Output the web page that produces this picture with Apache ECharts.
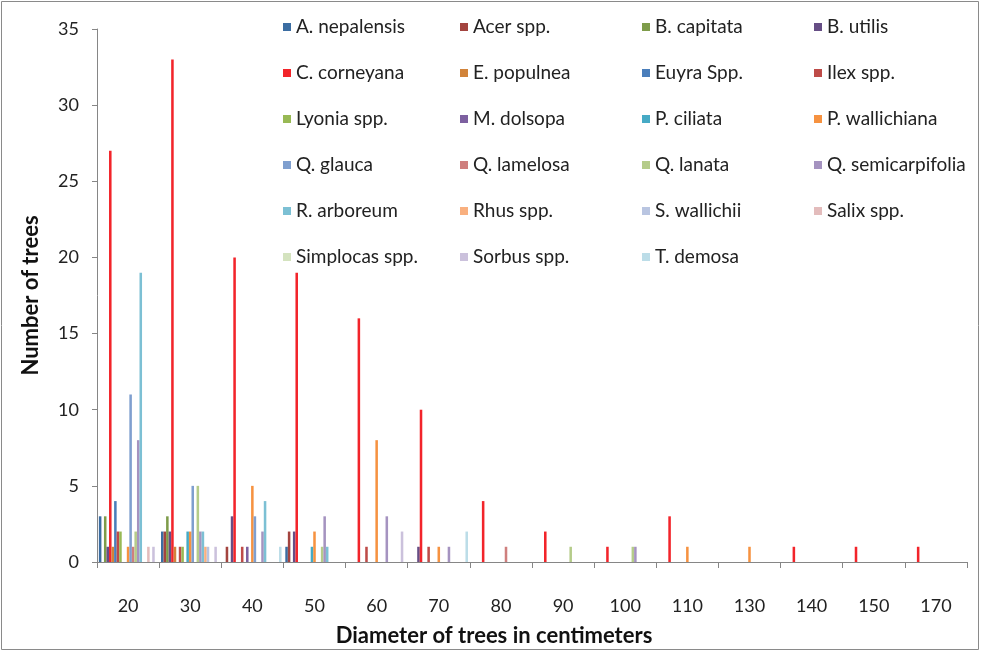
<!DOCTYPE html>
<html>
<head>
<meta charset="utf-8">
<script src="https://cdn.jsdelivr.net/npm/echarts@6/dist/echarts.min.js"></script>
<style>
html,body{margin:0;padding:0;background:#fff;}
#c{width:981px;height:652px;}
</style>
</head>
<body>
<div id="c"></div>
<script>
const categories = ['20','30','40','50','60','70','80','90','100','110','130','140','150','170'];

const aNepalensis   = [3,2,0,1,0,0,0,0,0,0,0,0,0,0];
const acerSpp       = [0,2,1,2,0,0,0,0,0,0,0,0,0,0];
const bCapitata     = [3,3,0,0,0,0,0,0,0,0,0,0,0,0];
const bUtilis       = [1,2,3,2,0,1,0,0,0,0,0,0,0,0];
const cCorneyana    = [27,33,20,19,16,10,4,2,1,3,0,1,1,1];
const ePopulnea     = [1,1,0,0,0,0,0,0,0,0,0,0,0,0];
const euyraSpp      = [4,0,0,0,0,0,0,0,0,0,0,0,0,0];
const ilexSpp       = [2,1,1,0,1,1,0,0,0,0,0,0,0,0];
const lyoniaSpp     = [2,1,0,0,0,0,0,0,0,0,0,0,0,0];
const mDolsopa      = [0,0,1,0,0,0,0,0,0,0,0,0,0,0];
const pCiliata      = [0,2,0,1,0,0,0,0,0,0,0,0,0,0];
const pWallichiana  = [1,2,5,2,8,1,0,0,0,1,1,0,0,0];
const qGlauca       = [11,5,3,0,0,0,0,0,0,0,0,0,0,0];
const qLamelosa     = [1,0,0,0,0,0,1,0,0,0,0,0,0,0];
const qLanata       = [2,5,0,1,0,0,0,1,1,0,0,0,0,0];
const qSemicarp     = [8,2,2,3,3,1,0,0,1,0,0,0,0,0];
const rArboreum     = [19,2,4,1,0,0,0,0,0,0,0,0,0,0];
const rhusSpp       = [0,1,0,0,0,0,0,0,0,0,0,0,0,0];
const sWallichii    = [0,1,0,0,0,0,0,0,0,0,0,0,0,0];
const salixSpp      = [1,0,0,0,0,0,0,0,0,0,0,0,0,0];
const simplocasSpp  = [0,0,0,0,0,0,0,0,0,0,0,0,0,0];
const sorbusSpp     = [1,1,0,0,2,0,0,0,0,0,0,0,0,0];
const tDemosa       = [0,0,1,0,0,2,0,0,0,0,0,0,0,0];

const seriesNames = ['A. nepalensis','Acer spp.','B. capitata','B. utilis','C. corneyana','E. populnea','Euyra Spp.','Ilex spp.','Lyonia spp.','M. dolsopa','P. ciliata','P. wallichiana','Q. glauca','Q. lamelosa','Q. lanata','Q. semicarpifolia','R. arboreum','Rhus spp.','S. wallichii','Salix spp.','Simplocas spp.','Sorbus spp.','T. demosa'];
const seriesData = [aNepalensis,acerSpp,bCapitata,bUtilis,cCorneyana,ePopulnea,euyraSpp,ilexSpp,lyoniaSpp,mDolsopa,pCiliata,pWallichiana,qGlauca,qLamelosa,qLanata,qSemicarp,rArboreum,rhusSpp,sWallichii,salixSpp,simplocasSpp,sorbusSpp,tDemosa];
const colors = ['#3b6da2','#a3443f','#7e9c4a','#664e85','#f2242a','#d1833a','#4a7ebb','#be4b48','#98b954','#7d60a0','#46aac5','#f69240','#7f9fcf','#cf7f7e','#b5cc8a','#a593c0','#7cc0d4','#f9b07f','#b9c5e1','#e3bcbc','#d4e3bf','#cbc1dc','#bcdde8'];

const FONT = 'Lato';
const legendCols = [0,1,2,3].map(c => seriesNames.filter((n,i) => i % 4 === c));
const legendLeft = [278, 455, 637, 809];

const chart = echarts.init(document.getElementById('c'), null, {renderer:'canvas'});
chart.setOption({
  animation:false,
  color: colors,
  textStyle:{fontFamily:FONT},
  graphic:[{type:'rect',shape:{x:1.5,y:1.5,width:977,height:648},style:{fill:'none',stroke:'#8a8a8a',lineWidth:1}}],
  grid:{left:97,right:14,top:29,bottom:85,containLabel:false},
  legend: legendCols.map((names,c)=>({
    data:names, orient:'vertical', left:legendLeft[c], top:12,
    icon:'rect', itemWidth:8, itemHeight:8, itemGap:26, selectedMode:false,
    textStyle:{fontFamily:FONT,fontSize:19,color:'#222',lineHeight:20,padding:[0,0,0,0]}
  })),
  xAxis:{
    type:'category', data:categories,
    axisLine:{lineStyle:{color:'#868686',width:1}},
    axisTick:{show:true,length:6,lineStyle:{color:'#868686'}},
    axisLabel:{fontFamily:FONT,fontSize:18,color:'#222',margin:35},
    name:'Diameter of trees in centimeters', nameLocation:'middle', nameGap:63,
    nameTextStyle:{fontFamily:FONT,fontSize:22,fontWeight:'bold',color:'#111',padding:[0,76,0,0]}
  },
  yAxis:{
    type:'value', min:0, max:35, interval:5,
    axisLine:{show:true,lineStyle:{color:'#868686',width:1}},
    axisTick:{show:true,length:5,lineStyle:{color:'#868686'}},
    splitLine:{show:false},
    axisLabel:{fontFamily:FONT,fontSize:18,color:'#222',margin:18},
    name:'Number of trees', nameLocation:'middle', nameGap:55, nameRotate:90,
    nameTextStyle:{fontFamily:FONT,fontSize:22,fontWeight:'bold',color:'#111'}
  },
  series: seriesNames.map((n,i)=>({
    name:n, type:'bar', data:seriesData[i], barGap:'0%', barCategoryGap:'6%',
    itemStyle:{color:colors[i]}
  }))
});
</script>
</body>
</html>
